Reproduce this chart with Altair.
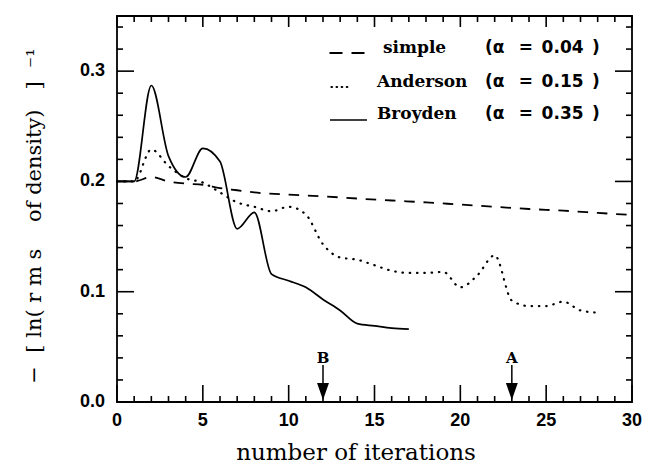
import altair as alt
import pandas as pd

# ---------------- data ----------------
simple_x = [0, 1, 2, 3, 4, 5, 6, 7, 8, 10, 12, 14, 16, 18, 20, 22, 24, 26, 28, 30]
simple_y = [0.200, 0.200, 0.204, 0.200, 0.198, 0.197, 0.194, 0.192, 0.190, 0.188,
            0.1865, 0.1845, 0.1827, 0.181, 0.179, 0.177, 0.175, 0.1735, 0.1715, 0.1695]

anderson_x = list(range(0, 29))
anderson_y = [0.200, 0.200, 0.229, 0.214, 0.203, 0.199, 0.190, 0.181, 0.177, 0.173,
              0.177, 0.170, 0.143, 0.131, 0.129, 0.124, 0.119, 0.117, 0.117, 0.118,
              0.104, 0.115, 0.133, 0.092, 0.087, 0.087, 0.091, 0.083, 0.081]

broyden_x = list(range(0, 18))
broyden_y = [0.200, 0.200, 0.287, 0.223, 0.204, 0.230, 0.218, 0.157, 0.172, 0.116,
             0.110, 0.104, 0.093, 0.083, 0.071, 0.069, 0.067, 0.066]

NB, EN = "\u00a0", "\u2002"
method_names = ["simple", "Anderson", "Broyden"]
method_alphas = ["(α" + EN + NB + "=" + EN + "0.04" + EN + ")",
                 "(α" + EN + NB + "=" + EN + "0.15" + EN + ")",
                 "(α" + EN + NB + "=" + EN + "0.35" + EN + ")"]

arrow_x = [12, 23]
arrow_labels = ["B", "A"]

x_major = [0, 5, 10, 15, 20, 25, 30]
x_minor = [1, 2, 3, 4, 6, 7, 8, 9, 11, 12, 13, 14, 16, 17, 18, 19,
           21, 22, 23, 24, 26, 27, 28, 29]
y_major = [0.0, 0.1, 0.2, 0.3]
y_minor = [0.02, 0.04, 0.06, 0.08, 0.12, 0.14, 0.16, 0.18,
           0.22, 0.24, 0.26, 0.28, 0.32, 0.34]

x_title = "number of iterations"
y_title = ("−" + NB + NB + "[" + NB + "ln(" + NB + "r" + NB + "m" + NB + "s"
           + NB * 4 + "of" + NB + "density)" + NB * 3 + "]" + NB * 2 + "⁻¹")

# ---------------- layout ----------------
W, H = 515, 386
MAJ, MIN, TOPMAJ = 17, 6, 11

xs = alt.Scale(domain=[0, 30], nice=False, zero=False)
ys = alt.Scale(domain=[0, 0.35], nice=False, zero=False)


def series(xv, yv, **mark):
    df = pd.DataFrame({"x": xv, "y": yv})
    return alt.Chart(df).mark_line(color="black", interpolate="monotone", **mark).encode(
        x=alt.X("x:Q", scale=xs, axis=None), y=alt.Y("y:Q", scale=ys, axis=None))


simple_line = series(simple_x, simple_y, strokeWidth=1.8, strokeDash=[10.5, 8.8])
anderson_line = series(anderson_x, anderson_y,
                       strokeWidth=2.2, strokeDash=[0.5, 6.8], strokeCap="round")
broyden_line = series(broyden_x, broyden_y, strokeWidth=1.7)


# ---------------- inward frame ticks drawn as tick marks ----------------
def vticks(vals, length, top):
    df = pd.DataFrame({"tv": vals})
    yc = length / 2 if top else H - length / 2
    return alt.Chart(df).mark_tick(orient="vertical", size=length, thickness=1.6,
                                   color="black", opacity=1, filled=True).encode(
        x=alt.X("tv:Q", scale=xs, axis=None), y=alt.value(yc))


def hticks(vals, length, right):
    df = pd.DataFrame({"tv": vals})
    xc = W - length / 2 if right else length / 2
    return alt.Chart(df).mark_tick(orient="horizontal", size=length, thickness=1.6,
                                   color="black", opacity=1, filled=True).encode(
        y=alt.Y("tv:Q", scale=ys, axis=None), x=alt.value(xc))


tick_layers = [
    vticks(x_major, MAJ, False), vticks(x_minor, MIN, False),
    vticks(x_major, TOPMAJ, True), vticks(x_minor, MIN, True),
    hticks(y_major, MAJ, False), hticks(y_minor, MIN, False),
    hticks(y_major, MAJ, True), hticks(y_minor, MIN, True),
]

# ---------------- tick labels and axis titles as text ----------------
x_lab = alt.Chart(pd.DataFrame({"tv": x_major})).mark_text(
    font="Liberation Sans", fontWeight="bold", fontSize=18, color="black",
    align="center", baseline="top").encode(
    x=alt.X("tv:Q", scale=xs, axis=None), y=alt.value(H + 10),
    text=alt.Text("tv:Q", format="d"))
y_lab = alt.Chart(pd.DataFrame({"tv": y_major})).mark_text(
    font="Liberation Sans", fontWeight="bold", fontSize=18, color="black",
    align="right", baseline="middle").encode(
    y=alt.Y("tv:Q", scale=ys, axis=None), x=alt.value(-12),
    text=alt.Text("tv:Q", format=".1f"))
titles = pd.DataFrame({"t": [x_title, y_title]})
x_tit = alt.Chart(titles.iloc[[0]]).mark_text(
    font="DejaVu Serif", fontSize=23, color="black", align="center",
    baseline="alphabetic").encode(x=alt.value(239), y=alt.value(H + 58), text="t:N")
y_tit = alt.Chart(titles.iloc[[1]]).mark_text(
    font="DejaVu Serif", fontSize=21, color="black", align="center",
    baseline="middle", angle=270).encode(x=alt.value(-82), y=alt.value(200), text="t:N")

# ---------------- arrows A / B ----------------
arr_df = pd.DataFrame({"ax": arrow_x, "lab": arrow_labels})
arrow_text = alt.Chart(arr_df).mark_text(
    font="DejaVu Serif", fontWeight="bold", fontSize=15, color="black",
    baseline="middle", align="center").encode(
    x=alt.X("ax:Q", scale=xs, axis=None), y=alt.value(342), text="lab:N")
arrow_shaft = alt.Chart(arr_df).mark_rule(color="black", strokeWidth=1.5).encode(
    x=alt.X("ax:Q", scale=xs, axis=None), x2=alt.X2("ax:Q"),
    y=alt.value(349), y2=alt.value(368))
arrow_head = alt.Chart(arr_df).mark_point(
    shape="M -0.7 -1 L 0.7 -1 L 0 1 Z", filled=True, size=289, color="black",
    opacity=1).encode(x=alt.X("ax:Q", scale=xs, axis=None), y=alt.value(375.5))

# ---------------- legend (drawn inside the frame) ----------------
legend_layers = []
row_text_y = [32.3, 65.7, 98.3]
row_sym_y = [37, 71, 104]
name_x = [266, 260, 260]
sym_x = [(212.5, 248), (214.5, 234), (213, 250)]
sym_style = [dict(strokeWidth=1.8, strokeDash=[13, 9]),
             dict(strokeWidth=2.2, strokeDash=[0.5, 4.6], strokeCap="round"),
             dict(strokeWidth=1.7)]
for i in range(3):
    one = pd.DataFrame({"name": [method_names[i]], "alpha": [method_alphas[i]]})
    legend_layers.append(
        alt.Chart(one).mark_rule(color="black", **sym_style[i]).encode(
            x=alt.value(sym_x[i][0]), x2=alt.value(sym_x[i][1]),
            y=alt.value(row_sym_y[i]), y2=alt.value(row_sym_y[i])))
    legend_layers.append(
        alt.Chart(one).mark_text(font="DejaVu Serif", fontWeight="bold", fontSize=17,
                                 color="black", align="left", baseline="middle").encode(
            x=alt.value(name_x[i]), y=alt.value(row_text_y[i]), text="name:N"))
    legend_layers.append(
        alt.Chart(one).mark_text(font="DejaVu Sans", fontWeight="bold", fontSize=17,
                                 color="black", align="left", baseline="middle").encode(
            x=alt.value(368), y=alt.value(row_text_y[i]), text="alpha:N"))

chart = alt.layer(
    simple_line, anderson_line, broyden_line, *tick_layers,
    x_lab, y_lab, x_tit, y_tit,
    arrow_text, arrow_shaft, arrow_head, *legend_layers,
).properties(
    width=W, height=H,
    autosize=alt.AutoSizeParams(type="none"),
    padding={"left": 109, "top": 8, "right": 10, "bottom": 62},
    background="white",
).configure_view(stroke="black", strokeWidth=1.8)

chart.save("out.html", embed_options={"renderer": "svg", "actions": False})
